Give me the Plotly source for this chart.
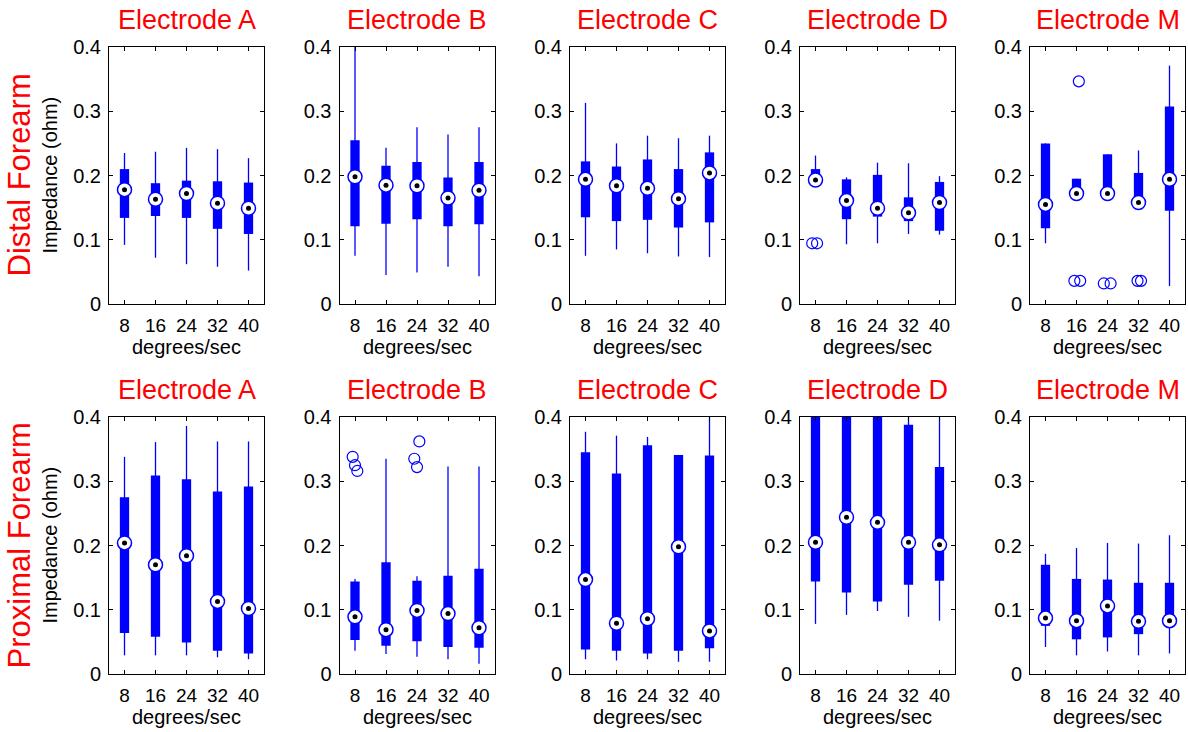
import plotly.graph_objects as go
from plotly.subplots import make_subplots

speeds = [8, 16, 24, 32, 40]
electrodes = ["A", "B", "C", "D", "M"]
row_names = ["Distal Forearm", "Proximal Forearm"]

# ---- Distal forearm (row 1): per electrode A,B,C,D,M; per speed 8..40
distal_lo = [[0.092, 0.072, 0.062, 0.058, 0.052],
             [0.075, 0.045, 0.049, 0.058, 0.043],
             [0.075, 0.085, 0.079, 0.074, 0.073],
             [0.188, 0.093, 0.0945, 0.109, 0.108],
             [0.0945, 0.168, 0.168, 0.155, 0.028]]
distal_q1 = [[0.134, 0.137, 0.134, 0.117, 0.109],
             [0.121, 0.125, 0.132, 0.121, 0.124],
             [0.135, 0.129, 0.131, 0.119, 0.127],
             [0.188, 0.132, 0.136, 0.129, 0.114],
             [0.118, 0.168, 0.168, 0.155, 0.145]]
distal_med = [[0.178, 0.163, 0.172, 0.157, 0.149],
              [0.198, 0.185, 0.184, 0.165, 0.177],
              [0.194, 0.184, 0.180, 0.164, 0.204],
              [0.193, 0.161, 0.149, 0.142, 0.158],
              [0.155, 0.172, 0.172, 0.158, 0.194]]
distal_q3 = [[0.210, 0.188, 0.192, 0.191, 0.189],
             [0.255, 0.215, 0.221, 0.197, 0.221],
             [0.222, 0.214, 0.225, 0.210, 0.236],
             [0.210, 0.194, 0.201, 0.166, 0.190],
             [0.250, 0.195, 0.233, 0.204, 0.3075]]
distal_hi = [[0.235, 0.237, 0.243, 0.241, 0.227],
             [0.400, 0.243, 0.275, 0.264, 0.275],
             [0.313, 0.250, 0.262, 0.258, 0.262],
             [0.231, 0.197, 0.220, 0.219, 0.199],
             [0.250, 0.195, 0.233, 0.239, 0.371]]
# outliers: electrode -> list of (speed, value, jitter in speed units)
distal_outliers = {
    "D": [(8, 0.0945, -0.85), (8, 0.0945, 0.4)],
    "M": [(16, 0.3465, 0.6), (16, 0.036, -0.55), (16, 0.036, 0.95),
          (24, 0.032, -0.95), (24, 0.032, 0.8),
          (32, 0.036, -0.25), (32, 0.036, 0.65)],
}

# ---- Proximal forearm (row 2)
prox_lo = [[0.029, 0.029, 0.029, 0.026, 0.023],
           [0.036, 0.031, 0.027, 0.023, 0.016],
           [0.023, 0.021, 0.023, 0.019, 0.019],
           [0.078, 0.092, 0.098, 0.089, 0.083],
           [0.042, 0.029, 0.035, 0.029, 0.032]]
prox_q1 = [[0.064, 0.058, 0.049, 0.036, 0.032],
           [0.053, 0.044, 0.051, 0.042, 0.041],
           [0.038, 0.036, 0.032, 0.036, 0.040],
           [0.144, 0.127, 0.113, 0.139, 0.145],
           [0.075, 0.054, 0.057, 0.062, 0.074]]
prox_med = [[0.204, 0.170, 0.184, 0.113, 0.102],
            [0.089, 0.069, 0.099, 0.094, 0.072],
            [0.147, 0.079, 0.086, 0.198, 0.067],
            [0.205, 0.244, 0.236, 0.205, 0.201],
            [0.087, 0.083, 0.106, 0.082, 0.083]]
prox_q3 = [[0.275, 0.309, 0.303, 0.284, 0.292],
           [0.144, 0.174, 0.145, 0.153, 0.164],
           [0.345, 0.312, 0.356, 0.341, 0.340],
           [0.420, 0.420, 0.420, 0.388, 0.322],
           [0.170, 0.148, 0.147, 0.142, 0.142]]
prox_hi = [[0.338, 0.361, 0.386, 0.362, 0.362],
           [0.148, 0.335, 0.152, 0.323, 0.323],
           [0.377, 0.371, 0.369, 0.341, 0.420],
           [0.450, 0.450, 0.450, 0.450, 0.450],
           [0.187, 0.196, 0.204, 0.203, 0.216]]
prox_outliers = {
    "B": [(8, 0.338, -0.6), (8, 0.325, 0.0), (8, 0.316, 0.6),
          (24, 0.362, 0.6), (24, 0.335, -0.7), (24, 0.322, 0.0)],
}

y_ticks = [0, 0.1, 0.2, 0.3, 0.4]
y_ticktext = ["0", "0.1", "0.2", "0.3", "0.4"]

W, H = 1188, 732
FONT = "Liberation Sans, Arial, Helvetica, sans-serif"
BLUE = "#0000ff"

panel_left = [109, 339.5, 570, 800, 1030]
panel_w = 155
row_top = [47, 417]
row_bot = [304, 674]

fig = make_subplots(rows=2, cols=5)

rows_data = [
    (distal_lo, distal_q1, distal_med, distal_q3, distal_hi, distal_outliers),
    (prox_lo, prox_q1, prox_med, prox_q3, prox_hi, prox_outliers),
]

for r, (lo, q1, med, q3, hi, outl) in enumerate(rows_data):
    for c, el in enumerate(electrodes):
        R, C = r + 1, c + 1
        # whiskers
        wx, wy = [], []
        for i, s in enumerate(speeds):
            wx += [s, s, None]
            wy += [lo[c][i], hi[c][i], None]
        fig.add_trace(go.Scatter(x=wx, y=wy, mode="lines",
                                 line=dict(color=BLUE, width=1.3),
                                 hoverinfo="skip", showlegend=False), row=R, col=C)
        # boxes
        fig.add_trace(go.Bar(x=speeds, base=q1[c],
                             y=[q3[c][i] - q1[c][i] for i in range(5)],
                             width=2.4, marker=dict(color=BLUE, line=dict(width=0)),
                             showlegend=False), row=R, col=C)
        # outliers
        if el in outl:
            pts = outl[el]
            fig.add_trace(go.Scatter(x=[p[0] + p[2] for p in pts], y=[p[1] for p in pts],
                                     mode="markers",
                                     marker=dict(symbol="circle-open", size=11, color=BLUE,
                                                 line=dict(width=1.2)),
                                     cliponaxis=False, showlegend=False), row=R, col=C)
        # median circles
        fig.add_trace(go.Scatter(x=speeds, y=med[c], mode="markers",
                                 marker=dict(symbol="circle", size=14, color="white",
                                             line=dict(color=BLUE, width=1.5)),
                                 showlegend=False), row=R, col=C)
        fig.add_trace(go.Scatter(x=speeds, y=med[c], mode="markers",
                                 marker=dict(symbol="circle", size=5, color="black"),
                                 showlegend=False), row=R, col=C)

        idx = r * 5 + c + 1
        xa = "xaxis" if idx == 1 else f"xaxis{idx}"
        ya = "yaxis" if idx == 1 else f"yaxis{idx}"
        fig.layout[xa].update(
            domain=[panel_left[c] / W, (panel_left[c] + panel_w) / W],
            range=[4, 44], tickvals=speeds, ticktext=[str(s) for s in speeds],
            ticks="inside", ticklen=4, tickcolor="black", mirror="ticks",
            showline=True, linecolor="black", linewidth=1, showgrid=False,
            zeroline=False, tickfont=dict(size=19, color="black", family=FONT),
            ticklabelstandoff=4, fixedrange=True, automargin=False)
        fig.layout[ya].update(
            domain=[1 - row_bot[r] / H, 1 - row_top[r] / H],
            range=[0, 0.4], tickvals=y_ticks, ticktext=y_ticktext,
            ticks="inside", ticklen=4, tickcolor="black", mirror="ticks",
            showline=True, linecolor="black", linewidth=1, showgrid=False,
            zeroline=False, tickfont=dict(size=20, color="black", family=FONT),
            ticklabelstandoff=3, fixedrange=True, automargin=False)

        # panel title
        fig.add_annotation(text=f"Electrode {el}", xref="paper", yref="paper",
                           x=(panel_left[c] + panel_w / 2) / W, y=1 - (row_top[r] - 27) / H,
                           xanchor="center", yanchor="middle", showarrow=False,
                           font=dict(size=27, color="red", family=FONT))
        # x label
        fig.add_annotation(text="degrees/sec", xref="paper", yref="paper",
                           x=(panel_left[c] + panel_w / 2) / W, y=1 - (row_bot[r] + 43) / H,
                           xanchor="center", yanchor="middle", showarrow=False,
                           font=dict(size=20, color="black", family=FONT))

    yc = 1 - (row_top[r] + row_bot[r]) / 2 / H
    fig.add_annotation(text=row_names[r], xref="paper", yref="paper",
                       x=19 / W, y=yc, xanchor="center", yanchor="middle",
                       textangle=-90, showarrow=False,
                       font=dict(size=31, color="red", family=FONT))
    fig.add_annotation(text="Impedance (ohm)", xref="paper", yref="paper",
                       x=49 / W, y=yc, xanchor="center", yanchor="middle",
                       textangle=-90, showarrow=False,
                       font=dict(size=20, color="black", family=FONT))

fig.update_layout(width=W, height=H, margin=dict(l=0, r=0, t=0, b=0, autoexpand=False),
                  paper_bgcolor="white", plot_bgcolor="white",
                  barmode="overlay", showlegend=False,
                  font=dict(family=FONT))

fig.write_html("out.html", config={"displayModeBar": False},
               post_script="document.body.style.margin='0';document.body.style.padding='0';")
